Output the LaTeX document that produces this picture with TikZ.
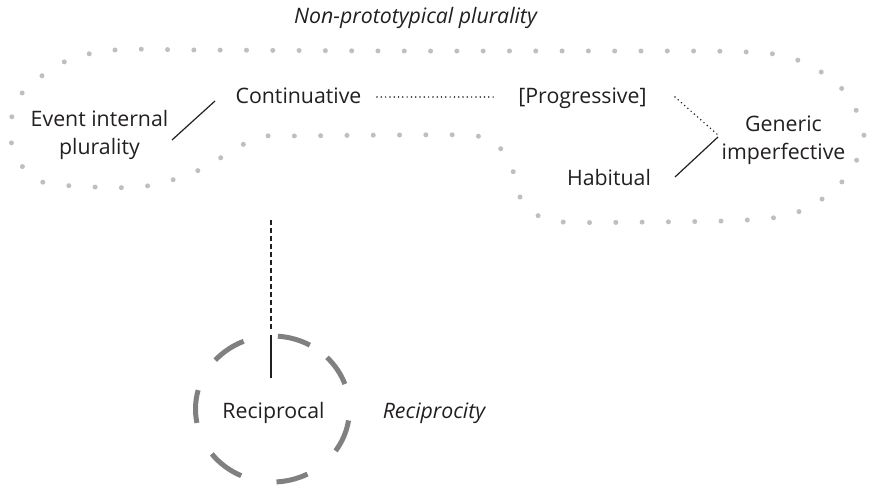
\documentclass[tikz,border=0pt]{standalone}
\usepackage{fontspec}
\setmainfont{Open Sans}
\usetikzlibrary{calc}
\definecolor{ink}{RGB}{35,31,32}
\definecolor{dotgray}{RGB}{190,190,196}
\definecolor{ringgray}{RGB}{128,128,128}
\begin{document}
\begin{tikzpicture}[x=1pt,y=-1pt,
  txt/.style={inner sep=0pt, text=ink, font=\fontsize{21.3}{28}\selectfont},
  twoline/.style={txt, align=center},
  areaname/.style={txt, font=\fontsize{21.3}{28}\selectfont\itshape},
  conn/.style={draw=ink, line width=1.2pt},
  dotconn/.style={draw=ink, line width=1.7pt, line cap=round, dash pattern=on 0pt off 4.3pt},
  dashconn/.style={draw=ink, line width=1.2pt, dash pattern=on 5pt off 3pt},
  region/.style={draw=dotgray, line width=5pt, line cap=round, dash pattern=on 0pt off 26.3pt},
  ring/.style={draw=ringgray, line width=5pt}]
\useasboundingbox (0,0) rectangle (870,487);

% dotted outline of the non-prototypical plurality region
\draw[region] plot[smooth cycle, tension=0.55] coordinates {
  (64,62) (115,50) (200,50) (400,51) (600,51) (748,52) (800,61) (843,90)
  (864,137) (841,183) (798,212) (747,220) (650,222) (562,222) (537,215)
  (520,197) (513,171) (500,148) (477,136) (400,135) (293,136) (267,136)
  (242,145) (197,171) (147,186) (94,187) (42,182) (22,166) (11,141)
  (12,116) (23,92)};

% labels
\node[areaname, anchor=base] (npp) at (415.5,24) {Non-prototypical plurality};
\node[twoline] (evt) at (99.5,134.5) {Event internal\\plurality};
\node[txt, anchor=base] (cont) at (298.5,103) {Continuative};
\node[txt, anchor=base] (prog) at (582.5,103) {[Progressive]};
\node[twoline] (gen) at (783.5,140) {Generic\\imperfective};
\node[txt, anchor=base] (hab) at (609,185) {Habitual};
\node[txt, anchor=base] (recip) at (273.5,418) {Reciprocal};
\node[areaname, anchor=base] (recy) at (434,418) {Reciprocity};

% dashed circle around the reciprocal, one arc per dash
\coordinate (rc) at ($(recip.base)+(-1,-9)$);
\foreach \s/\e in {20/45, 61/86, 112/138, 165/191, 218/246, 273/297, 325/351}
  \draw[ring] ($(rc)+({77*cos(\s)},{-73*sin(\s)})$)
    arc[start angle=\s, end angle=\e, x radius=77pt, y radius=73pt];

% connectors
\coordinate (vtop) at (271,220);
\draw[conn] ($(evt.center)+(72.5,5.5)$) -- ($(cont.base)+(-83.5,-2)$);
\draw[dotconn] ($(cont.base)+(78.5,-6)$) -- ($(prog.base)+(-86.5,-6)$);
\draw[dotconn] ($(prog.base)+(92.5,-6)$) -- ($(gen.center)+(-65.5,-5)$);
\draw[conn] ($(hab.base)+(66,-8)$) -- ($(gen.center)+(-65.5,-3)$);
\draw[dashconn] (vtop) -- ($(recip.base)+(-2.5,-87)$);
\draw[conn] ($(recip.base)+(-2.5,-83)$) -- ($(recip.base)+(-2.5,-40)$);
\end{tikzpicture}
\end{document}
